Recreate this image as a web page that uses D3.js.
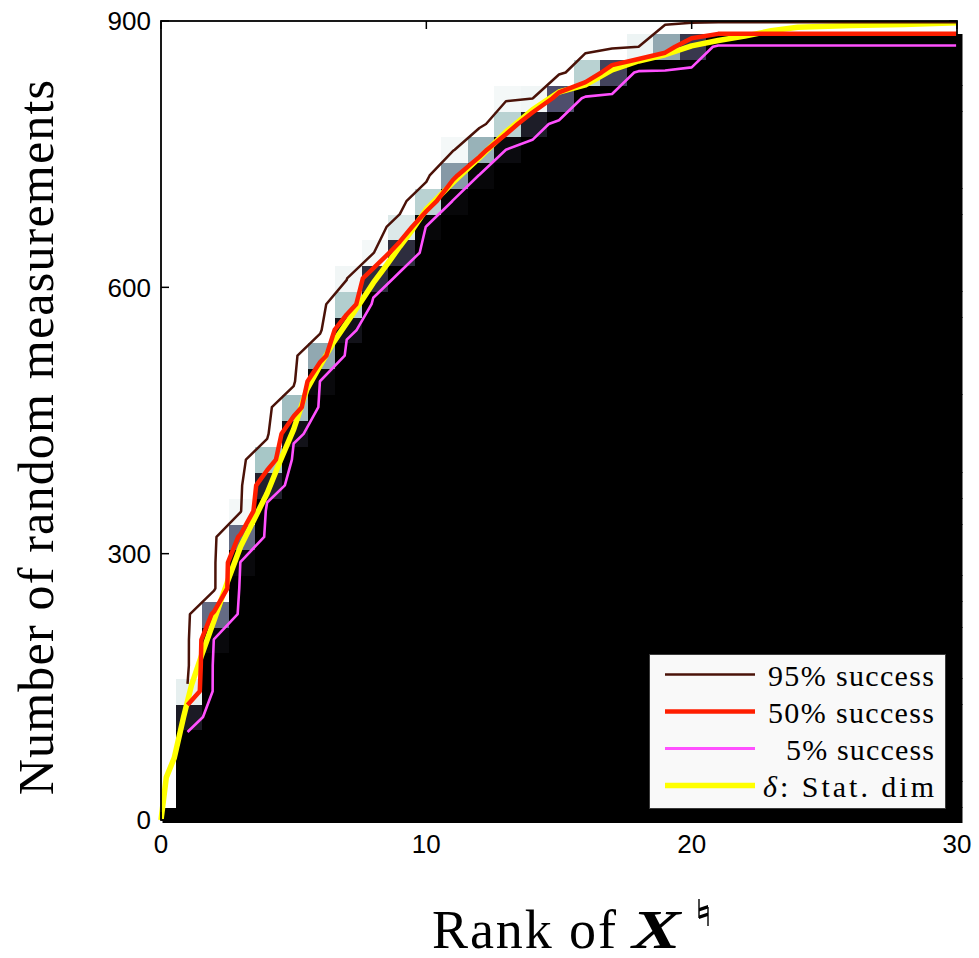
<!DOCTYPE html>
<html>
<head>
<meta charset="utf-8">
<script src="https://cdn.jsdelivr.net/npm/d3@7"></script>
<style>
  body { margin: 0; background: #fff; }
  svg { display: block; }
</style>
</head>
<body>
<div id="chart"></div>
<script>
// one image column per rank
var ranks = [0,1,2,3,4,5,6,7,8,9,10,11,12,13,14,15,16,17,18,19,20,21,22,23,24,25,26,27,28,29,30];
// one image row per measurement level
var measurements = [0,29,58,87,116,145,174,203,232,261,290,319,348,377,406,435,
                    465,494,523,552,581,610,639,668,697,726,755,784,813,842,871,900];
// number of rows at the bottom of each column where recovery always failed
var failRows = [1,4,7,10,13,15,17,19,21,22,23,24,25,26,27,28,29,29,30,30,30,31,31,31,31,31,31,31,31,31,31];
// success rate of the transition cells just above the failed rows (higher rows always succeed)
var edgeRates = [
  [], [0.12,0.93], [0.04,0.45], [0.04,0.45,0.97], [0.15,0.75], [0.08,0.72], [0.04,0.65],
  [0.08,0.78,0.96], [0.2,0.97], [0.2,0.9], [0.03,0.8], [0.03,0.6,0.97], [0.03,0.68],
  [0.05,0.8,0.97], [0.13,0.96], [0.35], [0.8], [0.3], [0.95], [0.65], [0.25],
  [], [], [], [], [], [], [], [], [], []
];
// contour levels of the success rate
var levels = [0.95, 0.5, 0.05];
var levelLabels = ["95% success", "50% success", "5% success"];
// statistical dimension curve
var deltaRank = [0,0.2,0.5,0.85,1.15,1.5,2,2.5,3,3.5,4,4.5,5,5.5,6,6.5,7,7.5,8,8.5,9,9.5,10,
                 11,12,13,14,15,16,17,18,19,20,21,22,23,24,26,28,30];
var deltaMeas = [0,48,70,116,152,183,225,268,308,338,368,405,440,485,512,538,560,582,605,625,646,666,688,
                 718,746,775,800,820,828,845,855,862,872,878,883,889,893,895,896,898];
var xTicks = [0,10,20,30];
var yTicks = [0,300,600,900];

var W = 979, H = 958;
var pL = 161, pR = 957, pT = 21, pB = 820;

var x = d3.scaleLinear().domain([0, 30]).range([pL, pR]);
var y = d3.scaleLinear().domain([0, 900]).range([pB, pT]);

// matlab "bone" colormap
function bone(v) {
  var c = function (t) { return Math.max(0, Math.min(1, t)); };
  var r = (7 * v + c((v - 0.75) / 0.25)) / 8;
  var g = (7 * v + c((v - 0.375) / 0.375)) / 8;
  var b = (7 * v + c(v / 0.375)) / 8;
  return d3.rgb(r * 255, g * 255, b * 255).toString();
}

function rate(i, j) {
  if (j < failRows[i]) return 0;
  var k = j - failRows[i];
  return k < edgeRates[i].length ? edgeRates[i][k] : 1;
}

var svg = d3.select("#chart").append("svg")
  .attr("width", W).attr("height", H);

svg.append("defs").append("clipPath").attr("id", "imgclip")
  .append("rect").attr("x", pL).attr("y", pT)
  .attr("width", pR - pL + 4).attr("height", pB - pT + 3);

// image cells
var cells = [];
ranks.forEach(function (r, i) {
  measurements.forEach(function (m, j) {
    var n = measurements.length;
    var lo = j > 0 ? (m + measurements[j - 1]) / 2 : m - (measurements[1] - m) / 2;
    var hi = j < n - 1 ? (m + measurements[j + 1]) / 2 : m + (m - measurements[j - 1]) / 2;
    cells.push({ r: r, lo: lo, hi: hi, v: rate(i, j) });
  });
});

svg.append("g").attr("clip-path", "url(#imgclip)")
  .attr("transform", "translate(1.5,0)")
  .attr("shape-rendering", "crispEdges")
  .selectAll("rect").data(cells).enter().append("rect")
  .attr("x", function (d) { return x(d.r - 0.5); })
  .attr("width", x(1) - x(0) + 0.6)
  .attr("y", function (d) { return y(d.hi); })
  .attr("height", function (d) { return y(d.lo) - y(d.hi) + 0.6; })
  .attr("fill", function (d) { return bone(d.v); });

// contour lines of the success rate (ranks 1..30)
var nc = ranks.length - 1, nr = measurements.length;
var grid = new Array(nc * nr);
for (var j = 0; j < nr; j++)
  for (var i = 0; i < nc; i++)
    grid[j * nc + i] = rate(i + 1, j);

function rowToMeas(row) {
  var j0 = Math.max(0, Math.min(nr - 2, Math.floor(row)));
  return measurements[j0] + (row - j0) * (measurements[j0 + 1] - measurements[j0]);
}

function openLine(ring) {
  var pts = ring.slice(0, ring.length - 1);
  var inside = function (p) { return p[0] > 0 && p[0] < nc && p[1] > 0 && p[1] < nr; };
  var n = pts.length, start = 0;
  for (var k = 0; k < n; k++) {
    if (!inside(pts[k]) && inside(pts[(k + 1) % n])) { start = (k + 1) % n; break; }
  }
  var out = [];
  for (var k = 0; k < n; k++) {
    var p = pts[(start + k) % n];
    if (!inside(p)) break;
    out.push([p[0] + 0.5, rowToMeas(p[1] - 0.5)]);
  }
  return out;
}

var contourGen = d3.contours().size([nc, nr]).thresholds(levels);
var contourSets = contourGen(grid);

var line = d3.line().x(function (d) { return x(d[0]); }).y(function (d) { return y(d[1]); });

var lineColor = { 0.95: "#4a1208", 0.5: "#ff1e00", 0.05: "#ff50ff" };
var lineWidth = { 0.95: 2.5, 0.5: 4.5, 0.05: 2.6 };

var lines = svg.append("g");

// statistical dimension under the contours
lines.append("path")
  .attr("d", line(deltaRank.map(function (r, k) { return [r, deltaMeas[k]]; })))
  .attr("fill", "none").attr("stroke", "#ffff00").attr("stroke-width", 5.5)
  .attr("stroke-linejoin", "round");

[0.95, 0.05, 0.5].forEach(function (lv) {
  var set = contourSets.filter(function (c) { return c.value === lv; })[0];
  set.coordinates.forEach(function (poly) {
    var pts = openLine(poly[0]);
    if (pts.length < 2) return;
    lines.append("path")
      .attr("d", line(pts))
      .attr("fill", "none")
      .attr("stroke", lineColor[lv])
      .attr("stroke-width", lineWidth[lv])
      .attr("stroke-linejoin", "round");
  });
});

// axes box and ticks
svg.append("rect")
  .attr("x", pL).attr("y", pT)
  .attr("width", pR - pL).attr("height", pB - pT)
  .attr("fill", "none").attr("stroke", "#000").attr("stroke-width", 1.8);

var tl = 8;
xTicks.forEach(function (t) {
  svg.append("line").attr("x1", x(t)).attr("x2", x(t)).attr("y1", pB).attr("y2", pB - tl)
    .attr("stroke", "#000").attr("stroke-width", 1.5);
  svg.append("line").attr("x1", x(t)).attr("x2", x(t)).attr("y1", pT).attr("y2", pT + tl)
    .attr("stroke", "#000").attr("stroke-width", 1.5);
  svg.append("text").attr("x", x(t)).attr("y", 853)
    .attr("text-anchor", "middle")
    .style("font-family", "'Liberation Sans', Arial, sans-serif").style("font-size", "26px")
    .text(t);
});
yTicks.forEach(function (t) {
  svg.append("line").attr("x1", pL).attr("x2", pL + tl).attr("y1", y(t)).attr("y2", y(t))
    .attr("stroke", "#000").attr("stroke-width", 1.5);
  svg.append("line").attr("x1", pR).attr("x2", pR - tl).attr("y1", y(t)).attr("y2", y(t))
    .attr("stroke", "#000").attr("stroke-width", 1.5);
  svg.append("text").attr("x", 151).attr("y", y(t)).attr("dy", "0.36em")
    .attr("text-anchor", "end")
    .style("font-family", "'Liberation Sans', Arial, sans-serif").style("font-size", "26px")
    .text(t);
});

// axis labels
svg.append("text")
  .attr("transform", "translate(53,437) rotate(-90)")
  .attr("text-anchor", "middle")
  .style("font-family", "'Liberation Serif', 'Times New Roman', serif")
  .style("font-size", "50px").style("letter-spacing", "1.2px")
  .text("Number of random measurements");

var serif = "'Liberation Serif', 'Times New Roman', serif";
svg.append("text")
  .attr("x", 432).attr("y", 948)
  .attr("textLength", 184).attr("lengthAdjust", "spacing")
  .style("font-family", serif).style("font-size", "54px")
  .text("Rank of");
svg.append("text")
  .attr("transform", "translate(632,948) scale(1.35,1)")
  .style("font-family", serif).style("font-size", "54px")
  .style("font-weight", "bold").style("font-style", "italic")
  .text("X");
// natural sign superscript, drawn as strokes
var nat = svg.append("g").attr("transform", "translate(697,899)")
  .attr("fill", "#000").attr("stroke", "#000");
nat.append("line").attr("x1", 2).attr("x2", 2).attr("y1", 0).attr("y2", 19).attr("stroke-width", 1.4);
nat.append("line").attr("x1", 11).attr("x2", 11).attr("y1", 8).attr("y2", 27).attr("stroke-width", 1.4);
nat.append("path").attr("stroke", "none").attr("d", "M2,9 L11,6 L11,9.5 L2,12.5 Z");
nat.append("path").attr("stroke", "none").attr("d", "M2,16.5 L11,13.5 L11,17 L2,20 Z");

// legend
var legend = svg.append("g");
legend.append("rect")
  .attr("x", 649.5).attr("y", 654.5).attr("width", 296).attr("height", 154)
  .attr("fill", "#f9f9f9").attr("stroke", "#3a3a3a").attr("stroke-width", 1);

var legendItems = [
  { label: levelLabels[0], color: lineColor[0.95], w: 2.5, len: 166 },
  { label: levelLabels[1], color: lineColor[0.5], w: 4.5, len: 166 },
  { label: levelLabels[2], color: lineColor[0.05], w: 3, len: 148 },
  { label: null, color: "#ffff00", w: 5.5, len: 171 }
];
legendItems.forEach(function (d, k) {
  var ly = 674.5 + k * 37;
  legend.append("line").attr("x1", 665).attr("x2", 755).attr("y1", ly).attr("y2", ly)
    .attr("stroke", d.color).attr("stroke-width", d.w);
  var t = legend.append("text").attr("x", 934).attr("y", ly + 11.5)
    .attr("text-anchor", "end")
    .attr("textLength", d.len).attr("lengthAdjust", "spacing")
    .style("font-family", serif)
    .style("font-size", "30px");
  if (d.label) {
    t.text(d.label);
  } else {
    t.append("tspan").style("font-style", "italic").text("\u03B4");
    t.append("tspan").text(": Stat. dim");
  }
});
</script>
</body>
</html>
